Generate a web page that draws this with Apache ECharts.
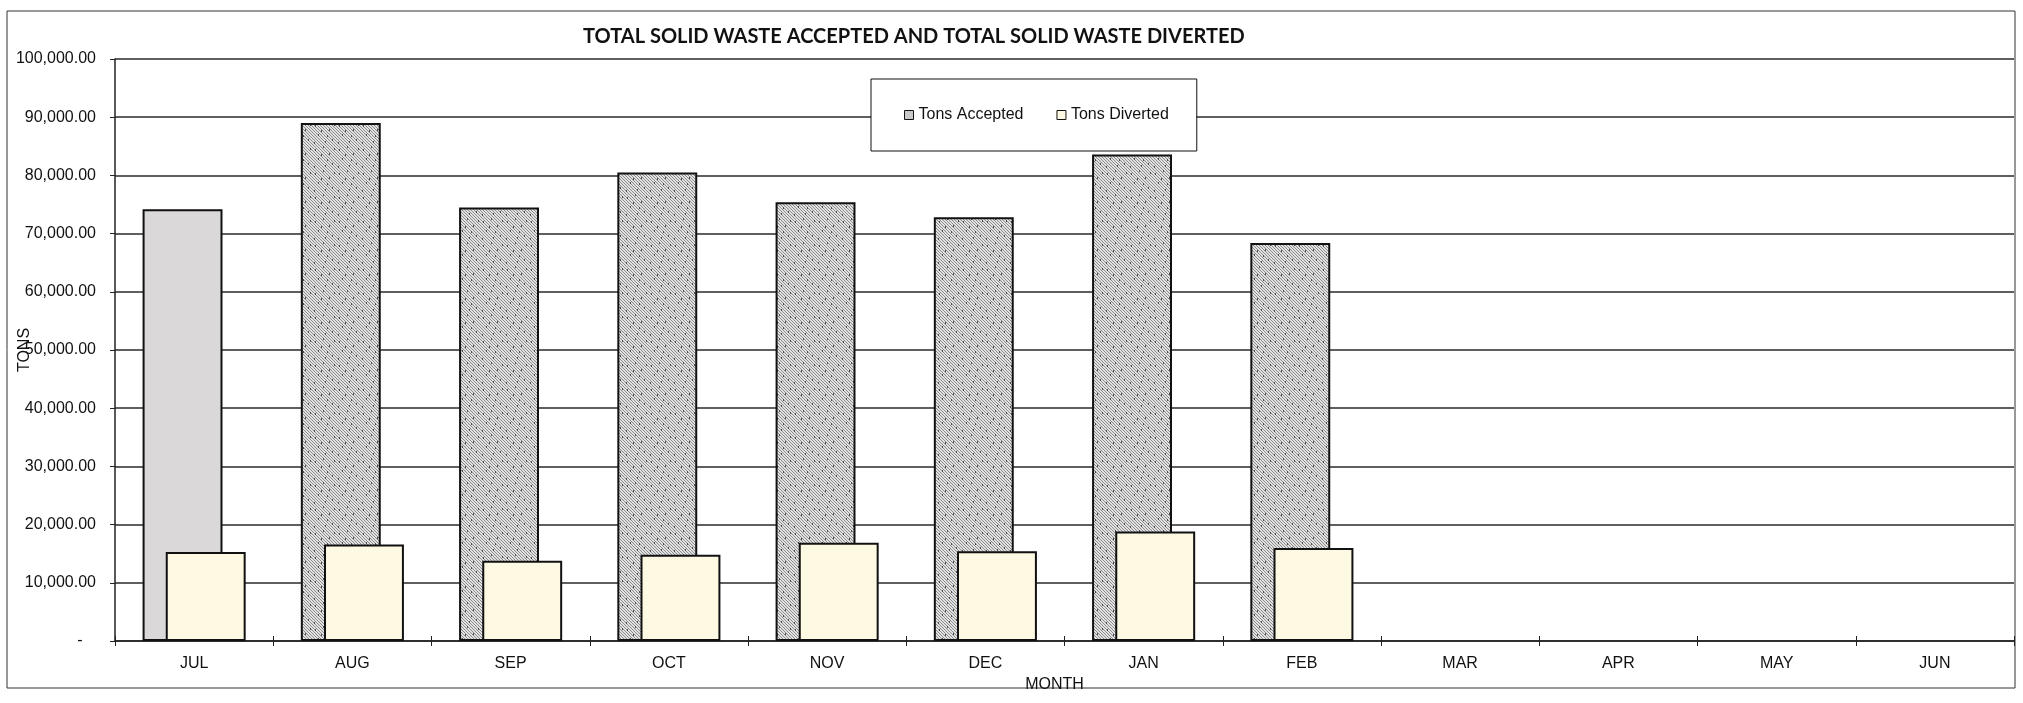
<!DOCTYPE html>
<html>
<head>
<meta charset="utf-8">
<script src="https://cdn.jsdelivr.net/npm/echarts@6/dist/echarts.min.js"></script>
<style>
  html, body { margin: 0; padding: 0; background: #ffffff; }
  #chart { width: 2023px; height: 703px; }
</style>
</head>
<body>
<div id="chart"></div>
<script>
// ---- data ----
const chartTitle = 'TOTAL SOLID WASTE ACCEPTED AND TOTAL SOLID WASTE DIVERTED';
const categories = ['JUL', 'AUG', 'SEP', 'OCT', 'NOV', 'DEC', 'JAN', 'FEB', 'MAR', 'APR', 'MAY', 'JUN'];
const seriesNames = ['Tons Accepted', 'Tons Diverted'];
const tonsAccepted = [74200, 89000, 74500, 80500, 75400, 72800, 83600, 68400, null, null, null, null];
const tonsDiverted = [15300, 16600, 13800, 14800, 16900, 15400, 18800, 16000, null, null, null, null];
const yMin = 0;
const yMax = 100000;
const yStep = 10000;
const xAxisName = 'MONTH';
const yAxisName = 'TONS';

// ---- styling helpers ----
function makeHatch() {
  const c = document.createElement('canvas');
  c.width = 24; c.height = 24;
  const g = c.getContext('2d');
  g.fillStyle = '#e2e2e2';
  g.fillRect(0, 0, 24, 24);
  g.strokeStyle = '#8c8c8c';
  g.lineWidth = 1;
  for (let k = -24; k < 48; k += 3) {
    g.beginPath(); g.moveTo(k, 0); g.lineTo(k + 24, 24); g.stroke();
  }
  g.fillStyle = '#4a4a4a';
  [[3,5],[11,2],[17,9],[6,14],[20,19],[13,21],[2,22],[9,10],[22,4],[15,15]].forEach(p => g.fillRect(p[0], p[1], 1, 2));
  return c;
}
const hatch = { image: makeHatch(), repeat: 'repeat' };
const font = '"Liberation Sans", Arial, sans-serif';

function fmt(v) {
  if (v === 0) return '-   ';
  return v.toLocaleString('en-US', { minimumFractionDigits: 2, maximumFractionDigits: 2 });
}

const acceptedData = tonsAccepted.map((v, i) => i === 0 ? { value: v, itemStyle: { color: '#dbd8d9' } } : v);

const chart = echarts.init(document.getElementById('chart'), null, { renderer: 'canvas' });
chart.setOption({
  backgroundColor: '#ffffff',
  animation: false,
  title: {
    text: chartTitle,
    left: 583, top: 27, padding: 0,
    textStyle: { fontFamily: 'Lato', fontWeight: 'bold', fontSize: 20, color: '#111' }
  },
  legend: {
    left: 871, top: 79,
    padding: [28, 28, 28, 33],
    borderColor: '#111', borderWidth: 1,
    backgroundColor: '#ffffff',
    itemWidth: 9, itemHeight: 9, itemGap: 33,
    textStyle: { fontFamily: font, fontSize: 16, color: '#111' },
    data: [
      { name: seriesNames[0], icon: 'rect', itemStyle: { color: '#c8c8c8', borderColor: '#111', borderWidth: 1 } },
      { name: seriesNames[1], icon: 'rect', itemStyle: { color: '#fdf9e3', borderColor: '#111', borderWidth: 1 } }
    ]
  },
  graphic: [{
    type: 'rect', silent: true, z: -1,
    shape: { x: 7, y: 11, width: 2008, height: 677 },
    style: { fill: 'none', stroke: '#333', lineWidth: 1 }
  }],
  grid: { left: 115, right: 9, top: 59, bottom: 62, containLabel: false, outerBoundsMode: 'none' },
  xAxis: [{
    type: 'category',
    data: categories,
    position: 'bottom',
    name: xAxisName,
    nameLocation: 'middle',
    nameGap: 36,
    nameMoveOverlap: false,
    nameTextStyle: { fontFamily: font, fontSize: 16, color: '#111', padding: [0, 20, 0, 0] },
    axisLine: { lineStyle: { color: '#222', width: 1.5 } },
    axisTick: { show: true, length: 5, lineStyle: { color: '#222', width: 1 } },
    axisLabel: { fontFamily: font, fontSize: 16, color: '#111', margin: 15 },
    splitLine: { show: false }
  }, {
    type: 'category',
    data: categories,
    position: 'bottom',
    axisLine: { show: false },
    axisTick: { show: true, inside: true, length: 5, lineStyle: { color: '#222', width: 1 } },
    axisLabel: { show: false },
    splitLine: { show: false }
  }],
  yAxis: {
    type: 'value',
    min: yMin, max: yMax, interval: yStep,
    name: yAxisName,
    nameLocation: 'middle',
    nameGap: 82,
    nameMoveOverlap: false,
    nameTextStyle: { fontFamily: font, fontSize: 16, color: '#111' },
    axisLine: { show: true, lineStyle: { color: '#222', width: 1.5 } },
    axisTick: { show: true, length: 5, lineStyle: { color: '#222', width: 1 } },
    axisLabel: { fontFamily: font, fontSize: 16, color: '#111', margin: 19, formatter: fmt },
    splitLine: { show: true, lineStyle: { color: '#2a2a2a', width: 1.5 } }
  },
  series: [{
    name: seriesNames[0],
    type: 'bar',
    data: acceptedData,
    barWidth: '50.5%',
    barGap: '-71%',
    itemStyle: { color: hatch, borderColor: '#111', borderWidth: 2 }
  }, {
    name: seriesNames[1],
    type: 'bar',
    data: tonsDiverted,
    barWidth: '50.5%',
    barGap: '-71%',
    itemStyle: { color: '#fdf9e3', borderColor: '#111', borderWidth: 2 }
  }]
});
</script>
</body>
</html>
